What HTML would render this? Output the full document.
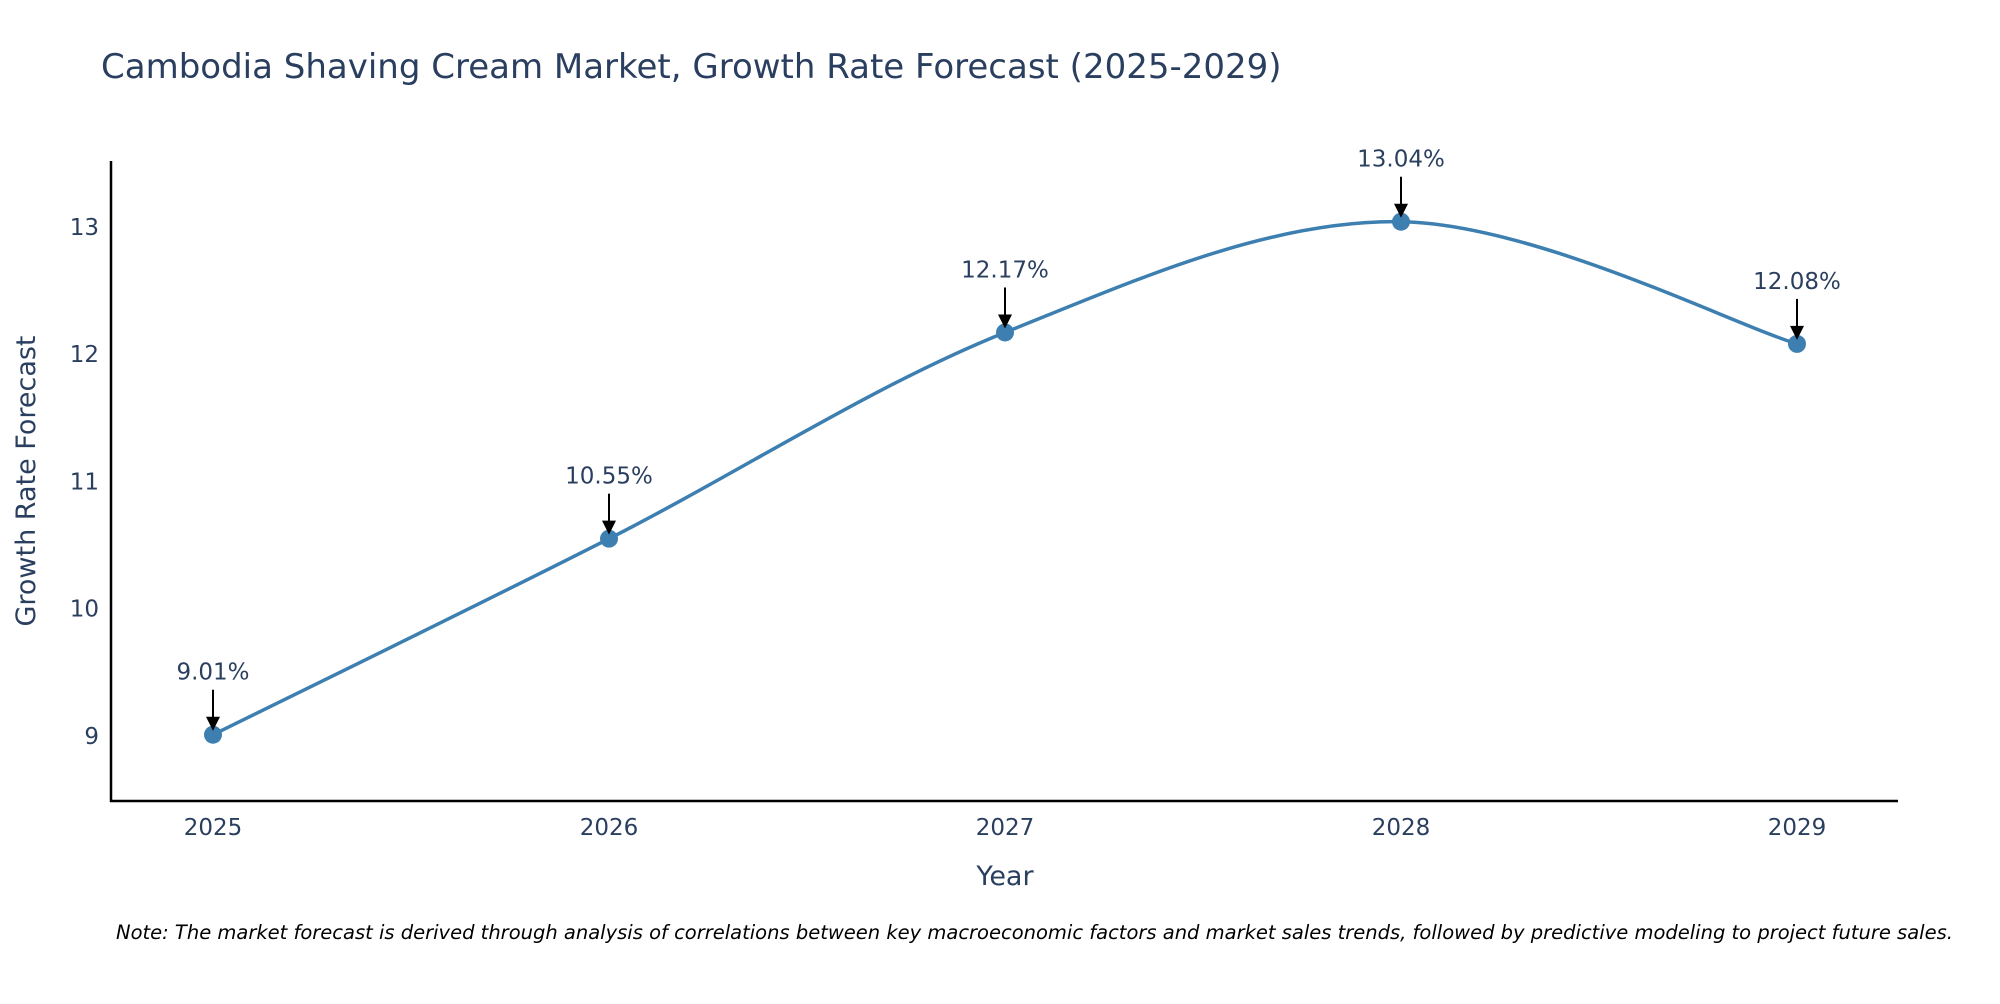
<!DOCTYPE html>
<html><head><meta charset="utf-8"><style>
body{margin:0;background:#fff;width:2000px;height:1000px;overflow:hidden;font-family:"DejaVu Sans","Liberation Sans",sans-serif}
</style></head><body>
<svg id="c" width="2000" height="1000" xmlns="http://www.w3.org/2000/svg" font-family="DejaVu Sans, Liberation Sans, sans-serif">
<text x="101" y="78" font-size="34" fill="#2a3f5f">Cambodia Shaving Cream Market, Growth Rate Forecast (2025-2029)</text>
<g id="yticks"></g>
<g id="xticks"></g>
<line x1="111" y1="161" x2="111" y2="802" stroke="#000" stroke-width="2.5"/>
<line x1="110" y1="801" x2="1898" y2="801" stroke="#000" stroke-width="2.5"/>
<text transform="translate(35,481) rotate(-90)" text-anchor="middle" font-size="27" fill="#2a3f5f">Growth Rate Forecast</text>
<text x="1005" y="885" text-anchor="middle" font-size="27" fill="#2a3f5f">Year</text>
<g id="series"></g>
<text x="116" y="939" font-size="19.5" font-style="italic" fill="#000">Note: The market forecast is derived through analysis of correlations between key macroeconomic factors and market sales trends, followed by predictive modeling to project future sales.</text>
</svg>
<script>
const years=[2025,2026,2027,2028,2029];
const values=[9.01,10.55,12.17,13.04,12.08];
const labels=["9.01%","10.55%","12.17%","13.04%","12.08%"];
const yTicks=[9,10,11,12,13];
const NS="http://www.w3.org/2000/svg";
const X=v=>213+(v-2025)*396;
const Y=v=>736-(v-9)*127.3;
function mk(t,a,p){const e=document.createElementNS(NS,t);for(const k in a)e.setAttribute(k,a[k]);p.appendChild(e);return e;}
const yt=document.getElementById('yticks');
yTicks.forEach(t=>{const e=mk('text',{x:99,y:Y(t)+8,'text-anchor':'end','font-size':23,fill:'#2a3f5f'},yt);e.textContent=t;

});
const xt=document.getElementById('xticks');
years.forEach(t=>{const e=mk('text',{x:X(t),y:835,'text-anchor':'middle','font-size':23,fill:'#2a3f5f'},xt);e.textContent=t;

});
const s=document.getElementById('series');
const pts=years.map((y,i)=>[X(y),Y(values[i])]);
let d='M'+pts[0][0]+','+pts[0][1];const tn=0.5/3*2;
for(let i=0;i<pts.length-1;i++){const p0=pts[Math.max(0,i-1)],p1=pts[i],p2=pts[i+1],p3=pts[Math.min(pts.length-1,i+2)];
const c1=[p1[0]+(p2[0]-p0[0])*tn/2,p1[1]+(p2[1]-p0[1])*tn/2],c2=[p2[0]-(p3[0]-p1[0])*tn/2,p2[1]-(p3[1]-p1[1])*tn/2];
d+=` C${c1[0]},${c1[1]} ${c2[0]},${c2[1]} ${p2[0]},${p2[1]}`;}
const ln=mk('path',{d:d,fill:'none',stroke:'#3d7fb0','stroke-width':3.5},s);


pts.forEach((p,i)=>{const c=mk('circle',{cx:p[0],cy:p[1],r:9,fill:'#3d7fb0'},s);


const a=mk('line',{x1:p[0],y1:p[1]-45,x2:p[0],y2:p[1]-16,stroke:'#000','stroke-width':2},s);


const h=mk('polygon',{points:`${p[0]-7},${p[1]-18} ${p[0]+7},${p[1]-18} ${p[0]},${p[1]-4}`,fill:'#000'},s);


const t=mk('text',{x:p[0],y:p[1]-55,'text-anchor':'middle','font-size':23,fill:'#2a3f5f'},s);t.textContent=labels[i];

});
</script>
</body></html>
